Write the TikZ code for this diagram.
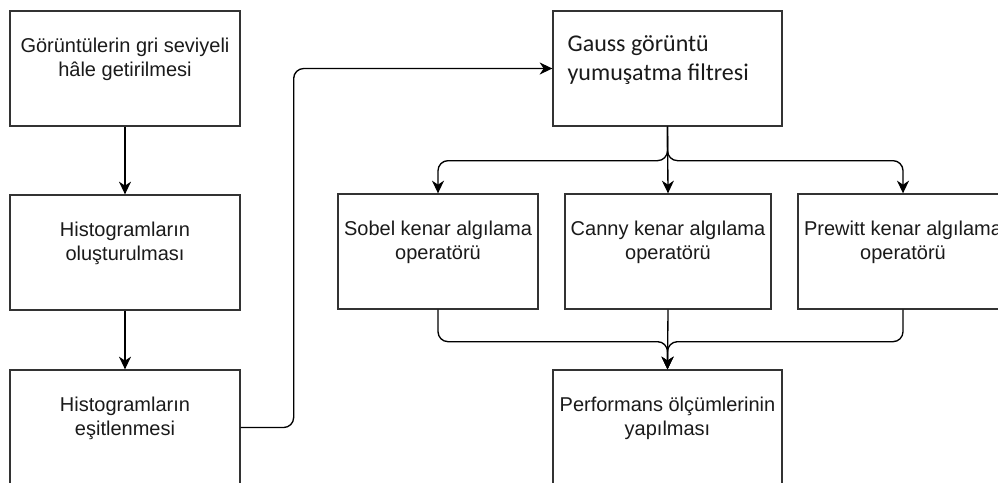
\documentclass[tikz,border=0pt]{standalone}
\usepackage{fontspec}
\setmainfont{Liberation Sans}
\newfontfamily\calib{Carlito}
\usetikzlibrary{arrows.meta,calc}
\definecolor{edge}{HTML}{333333}
\definecolor{ink}{HTML}{1A1A1A}
\tikzset{
  box/.style={draw=edge, line width=1pt, fill=white, inner sep=0pt},
  txt/.style={text=ink, align=center, inner sep=0pt, font=\fontsize{15pt}{18pt}\selectfont},
  gtxt/.style={text=ink, align=left, inner sep=0pt, font=\calib\fontsize{18pt}{21.75pt}\selectfont},
  arr/.style={draw=black, line width=1pt, rounded corners=7.5pt,
    -{Stealth[length=9.5pt,width=9pt,inset=3pt]}},
}
\begin{document}
\begin{tikzpicture}[x=0.75pt,y=-0.75pt]
\useasboundingbox (0,0) rectangle (998,482);
\clip (0,0) rectangle (998,482);
% boxes
\node[box, minimum width=172.5pt, minimum height=86.25pt] (b1) at (125,68.5) {};
\node[box, minimum width=172.5pt, minimum height=86.25pt] (b2) at (125,252.5) {};
\node[box, minimum width=172.5pt, minimum height=86.25pt] (b3) at (125,427.5) {};
\node[box, minimum width=171.75pt, minimum height=86.25pt] (gauss) at (667.5,68.5) {};
\node[box, minimum width=150pt, minimum height=86.25pt] (sobel) at (438,251.5) {};
\node[box, minimum width=154.5pt, minimum height=86.25pt] (canny) at (668,251.5) {};
\node[box, minimum width=157.5pt, minimum height=86.25pt] (prewitt) at (903,251.5) {};
\node[box, minimum width=171.75pt, minimum height=86.25pt] (perf) at (667.5,427.5) {};
% texts
\node[txt] (t1) at ($(b1.center)+(0,-9)$) {Görüntülerin gri seviyeli\\hâle getirilmesi};
\node[txt] (t2) at ($(b2.center)+(0,-9)$) {Histogramların\\oluşturulması};
\node[txt] (t3) at ($(b3.center)+(0,-9)$) {Histogramların\\eşitlenmesi};
\node[gtxt, anchor=west] (tg) at ($(gauss.west)+(15,-8)$) {Gauss görüntü\\yumuşatma filtresi};
\node[txt] (ts) at ($(sobel.center)+(0,-9)$) {Sobel kenar algılama\\operatörü};
\node[txt] (tc) at ($(canny.center)+(0,-9)$) {Canny kenar algılama\\operatörü};
\node[txt] (tp) at ($(prewitt.center)+(0,-9)$) {Prewitt kenar algılama\\operatörü};
\node[txt] (tf) at ($(perf.center)+(0,-9)$) {Performans ölçümlerinin\\yapılması};
% connectors
\draw[arr] (b1.south) -- (b2.north);
\draw[arr] (b2.south) -- (b3.north);
\draw[arr] (b3.east) -- ++(53,0) |- (gauss.west);
\draw[arr] (gauss.south) -- ++(0,34) -| (sobel.north);
\draw[arr] (gauss.south) -- (canny.north);
\draw[arr] (gauss.south) -- ++(0,34) -| (prewitt.north);
\draw[arr] (sobel.south) -- ++(0,32) -| (perf.north);
\draw[arr] (canny.south) -- (perf.north);
\draw[arr] (prewitt.south) -- ++(0,32) -| (perf.north);
\end{tikzpicture}
\end{document}
